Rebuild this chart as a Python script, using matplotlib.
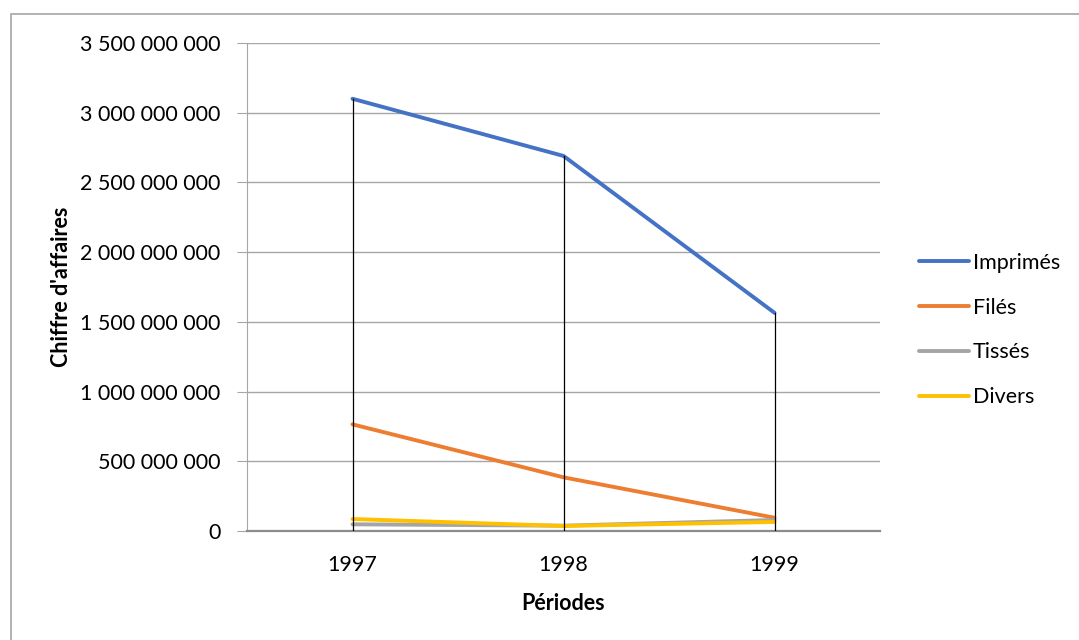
import matplotlib.pyplot as plt
from matplotlib.patches import Rectangle
from matplotlib.ticker import FuncFormatter

# données
periodes = ["1997", "1998", "1999"]
imprimes = [3100000000, 2690000000, 1565000000]
files = [765000000, 385000000, 95000000]
tisses = [48000000, 38000000, 79000000]
divers = [86000000, 36000000, 65000000]

series = [
    ("Imprimés", imprimes, "#4472C4"),
    ("Filés", files, "#ED7D31"),
    ("Tissés", tisses, "#A5A5A5"),
    ("Divers", divers, "#FFC000"),
]

plt.rcParams['font.family'] = ['Lato', 'DejaVu Sans']
fs = 15.5

fig = plt.figure(figsize=(10.79, 6.40), dpi=100)
ax = fig.add_axes([247 / 1079, 1 - 531 / 640, 633 / 1079, 488 / 640])

# cadre du graphique (seuls les bords haut et gauche sont visibles)
fig.patches.append(Rectangle((11 / 1079, -0.1), 1.2, 0.1 + (640 - 14) / 640,
                             transform=fig.transFigure, fill=False,
                             edgecolor="#a6a6a6", linewidth=1.2))

x = list(range(len(periodes)))
for name, vals, col in series:
    ax.plot(x, vals, color=col, linewidth=2.8, label=name, solid_capstyle="round", zorder=3)

# lignes de projection
for i in x:
    top = max(s[1][i] for s in series)
    ax.plot([i, i], [0, top], color="black", linewidth=0.9, zorder=4)

ax.set_xlim(-0.5, len(periodes) - 0.5)
ax.set_ylim(0, 3500000000)
ax.set_yticks(range(0, 3500000001, 500000000))
ax.yaxis.set_major_formatter(FuncFormatter(lambda v, p: f"{int(v):,}".replace(",", " ")))
ax.set_xticks(x)
ax.set_xticklabels(periodes)

ax.grid(axis="y", color="#a6a6a6", linewidth=1.0, zorder=0)
ax.set_axisbelow(True)
for s in ["top", "right"]:
    ax.spines[s].set_visible(False)
ax.spines["left"].set_color("#a6a6a6")
ax.spines["bottom"].set_color("#8c8c8c")
ax.spines["bottom"].set_linewidth(1.6)

ax.tick_params(axis="y", length=7, color="#a6a6a6", labelsize=fs, pad=12)
ax.tick_params(axis="x", length=0, labelsize=fs, pad=17)

ax.set_ylabel("Chiffre d'affaires", fontsize=fs, fontweight="bold", labelpad=6)
ax.set_xlabel("Périodes", fontsize=fs, fontweight="bold", labelpad=13)

ax.legend(loc="center left", bbox_to_anchor=(919 / 1079, 1 - 330 / 640),
          bbox_transform=fig.transFigure, frameon=False, borderpad=0, borderaxespad=0,
          fontsize=fs, handlelength=2.3, handletextpad=0.2, labelspacing=1.15)

fig.savefig("out.png", dpi=100)
